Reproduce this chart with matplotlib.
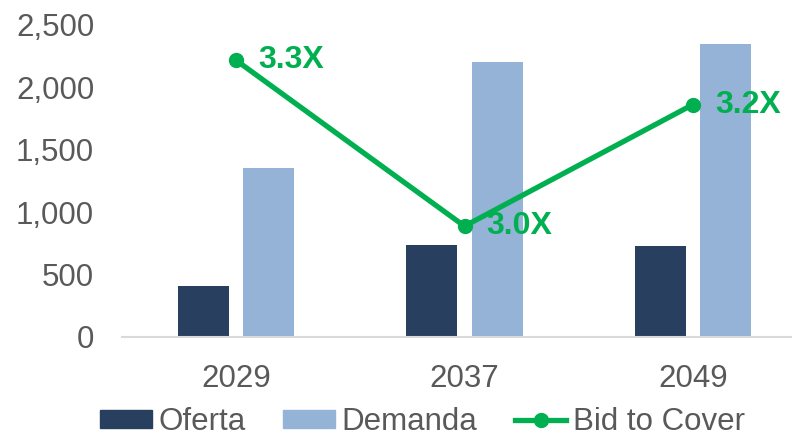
import numpy as np
import matplotlib
matplotlib.use("Agg")
import matplotlib.pyplot as plt
from matplotlib.lines import Line2D
from matplotlib.patches import Patch

# ------------------- datos -------------------
years = ["2029", "2037", "2049"]
oferta = [410, 735, 730]
demanda = [1350, 2200, 2350]
bid_to_cover = [3.29, 2.99, 3.21]
bid_labels = ["3.3X", "3.0X", "3.2X"]
y_ticks = [0, 500, 1000, 1500, 2000, 2500]

# ------------------- estilo -------------------
plt.rcParams["font.family"] = ["Liberation Sans", "DejaVu Sans"]
c_oferta = "#283F60"
c_demanda = "#95B3D7"
c_green = "#00B050"
c_text = "#595959"
fs = 22.5

fig = plt.figure(figsize=(7.92, 4.33), dpi=100)
ax = fig.add_axes([0.154, 0.2224, 0.865, 0.7199])

x = np.arange(len(years))
w = 0.223
off = 0.143
ax.bar(x - off, oferta, w, color=c_oferta, zorder=2)
ax.bar(x + off, demanda, w, color=c_demanda, zorder=2)

ax.set_xlim(-0.5, 2.5)
ax.set_ylim(0, 2500)
ax.set_yticks(y_ticks)
ax.set_yticklabels([f"{v:,}" for v in y_ticks])
ax.set_xticks(x)
ax.set_xticklabels(years)
ax.tick_params(axis="y", length=0, pad=20, labelsize=fs, labelcolor=c_text)
ax.tick_params(axis="x", length=0, pad=19.5, labelsize=fs, labelcolor=c_text)
for s in ["top", "right", "left"]:
    ax.spines[s].set_visible(False)
ax.spines["bottom"].set_color("#D9D9D9")
ax.spines["bottom"].set_linewidth(1.5)

# eje secundario (oculto) para el bid to cover
ax2 = ax.twinx()
ax2.set_ylim(2.790, 3.354)
ax2.plot(x, bid_to_cover, color=c_green, lw=3.8, marker="o", ms=10, zorder=3)
for xi, v, lab in zip(x, bid_to_cover, bid_labels):
    ax2.annotate(lab, (xi, v), xytext=(16, 0), textcoords="offset points",
                 ha="left", va="center", fontsize=23, fontweight="bold", color=c_green)
ax2.axis("off")

handles = [Patch(color=c_oferta), Patch(color=c_demanda),
           Line2D([], [], color=c_green, lw=3.8, marker="o", ms=10)]
fig.legend(handles, ["Oferta", "Demanda", "Bid to Cover"], loc="center",
           bbox_to_anchor=(422.5 / 792, 11 / 433), ncol=3, frameon=False, fontsize=fs,
           labelcolor=c_text, handlelength=1.66, handleheight=0.51,
           handletextpad=0.2, columnspacing=1.2, borderpad=0, borderaxespad=0)

fig.savefig("out.png", dpi=100)
